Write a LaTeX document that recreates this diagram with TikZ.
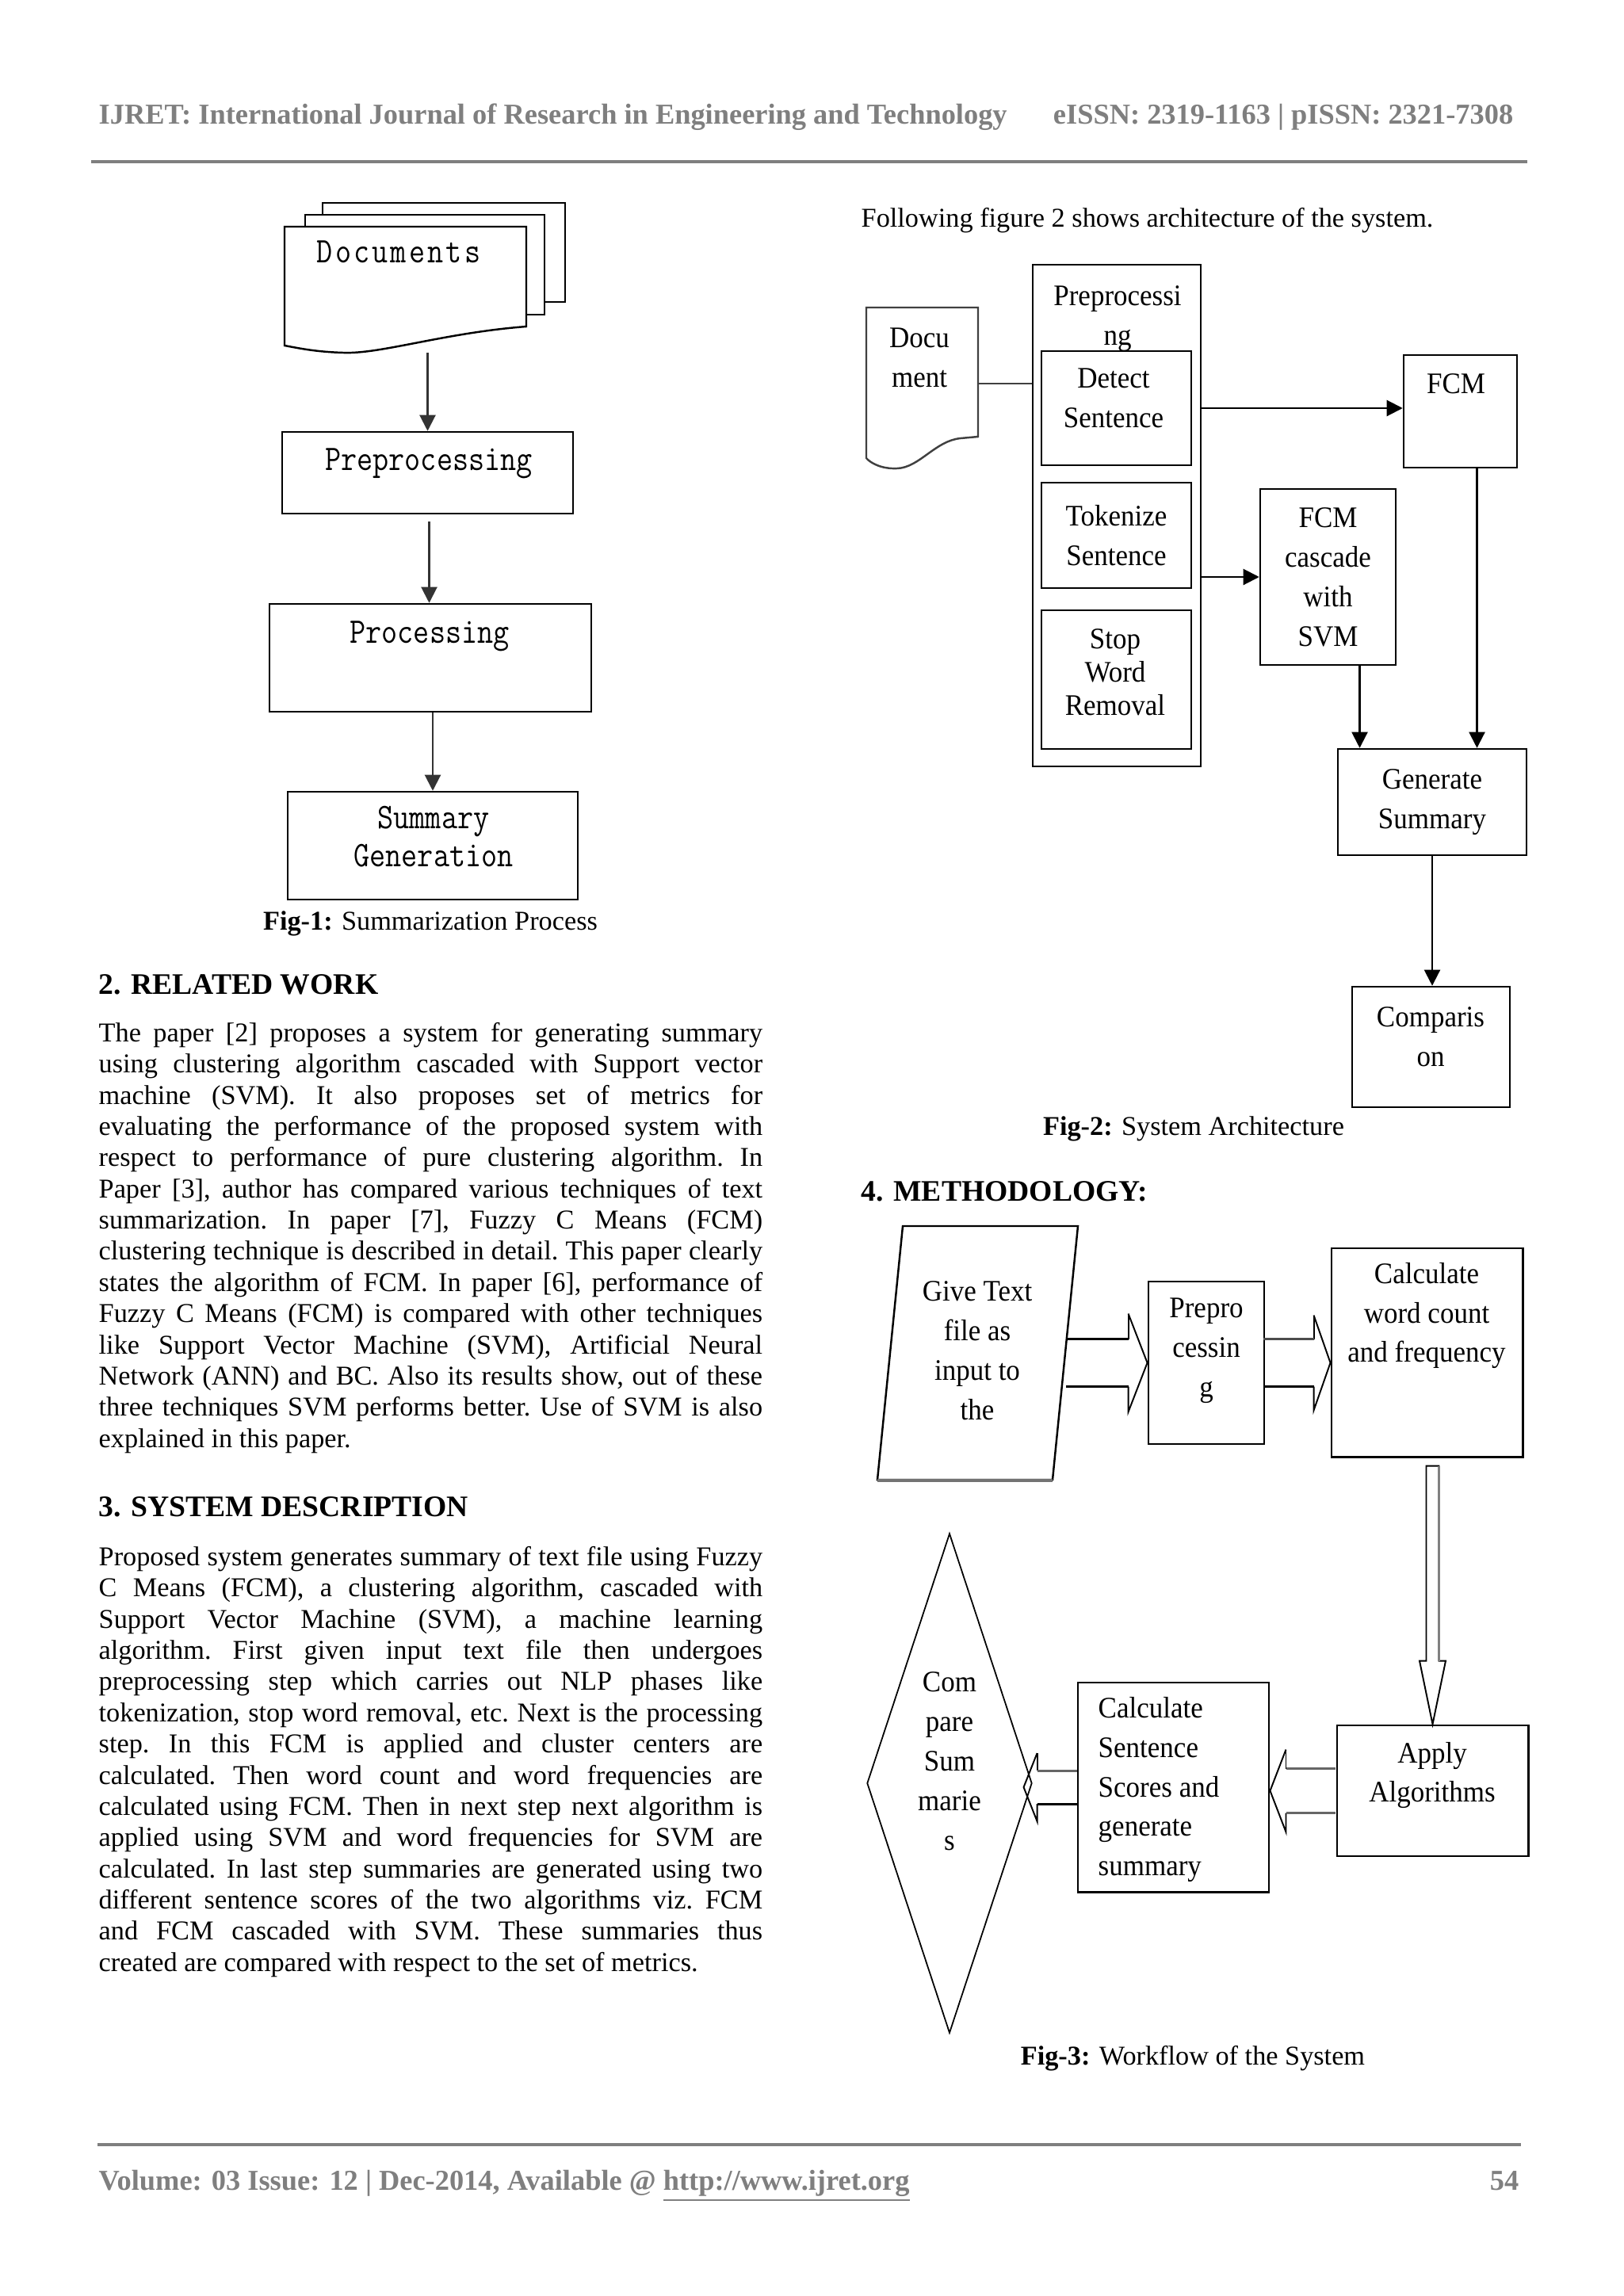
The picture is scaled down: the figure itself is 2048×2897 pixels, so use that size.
\documentclass[tikz,border=0pt]{standalone}
\usepackage{fontspec}
\setmainfont{Liberation Serif}
\newfontfamily\figmono[FakeStretch=0.86]{Latin Modern Mono}
\newfontfamily\figmonowide[FakeStretch=0.86, LetterSpace=7]{Latin Modern Mono}
\newfontfamily\figserif[FakeStretch=0.93]{Liberation Serif}
\usetikzlibrary{arrows.meta}
\usetikzlibrary{calc}
\usetikzlibrary{shapes.geometric}
\definecolor{pagegray}{HTML}{7F7F7F}

\tikzset{
  ln/.style={line width=0.7pt},
  box/.style={draw, line width=0.7pt, inner sep=0pt},
  onetxt/.style={font=\figmono\fontsize{12.9}{13.6}\selectfont, inner sep=0pt, align=center},
  twotxt/.style={font=\figserif\fontsize{10.7}{14.2}\selectfont, inner sep=0pt, align=center},
  arr/.style={-{Triangle[length=0.2cm,width=0.2cm]}, line width=0.6pt},
  blk/.style={line width=0.55pt, line join=miter},
  shaft/.style={line width=0.85pt},
  body/.style={font=\fontsize{9.75}{11.2}\selectfont\frenchspacing, inner sep=0pt, text width=8.37cm, align=justify, anchor=north west},
  sechead/.style={font=\bfseries\fontsize{10.7}{13}\selectfont, inner sep=0pt, anchor=base west},
  figcap/.style={font=\fontsize{9.75}{11}\selectfont, inner sep=0pt, anchor=base},
  pg/.style={font=\bfseries\fontsize{10.35}{12}\selectfont, text=pagegray, inner sep=0pt}
}

\begin{document}
\begin{tikzpicture}[x=0.01cm, y=-0.01cm]
\fill[white] (0,0) rectangle (2048,2897);
\useasboundingbox (0,0) rectangle (2048,2897);

% page head and foot
\node[pg, anchor=base west] (jname) at (124,157) {IJRET: International Journal of Research in Engineering and Technology};
\node[pg, anchor=base east] (issn) at (1910,157) {eISSN: 2319-1163 | pISSN: 2321-7308};
\draw[pagegray, line width=0.9pt] (115,204) -- (1927,204);
\draw[pagegray, line width=0.9pt] (123,2706) -- (1919,2706);
\node[pg, anchor=base west] (vol) at (124,2763) {Volume: 03 Issue: 12 | Dec-2014, Available @ \underline{http://www.ijret.org}};
\node[pg, anchor=base east] (pgno) at (1917,2763) {54};

% Fig-1
\draw[box, fill=white] (407,256) rectangle (713,381);
\draw[box, fill=white] (385,271) rectangle (687,397);
\draw[ln, fill=white] (359,286) -- (664,286) -- (664,412) .. controls (560,420) and (480,447) .. (433,445) .. controls (400,444) and (380,440) .. (359,436) -- cycle;
\node[minimum width=3.05cm, minimum height=1.58cm, inner sep=0pt] (docs) at (511.5,365) {};
\node[onetxt, font=\figmonowide\fontsize{12.9}{13.6}\selectfont, anchor=north] (docstxt) at (503,303) {Documents};
\node[box, minimum width=3.67cm, minimum height=1.03cm] (pre) at (539.5,596.5) {};
\node[onetxt, anchor=north] (pretxt) at (541,565) {Preprocessing};
\node[box, minimum width=4.06cm, minimum height=1.36cm] (proc) at (543,830) {};
\node[onetxt, anchor=north] (proctxt) at (542,783) {Processing};
\node[box, minimum width=3.66cm, minimum height=1.36cm] (sum) at (546,1067) {};
\node[onetxt] (sumtxt) at (547,1056) {Summary\\Generation};
\draw[arr, black!80] (pre.north |- docs.south) -- (pre.north);
\coordinate (p1) at ($(pre.south)+(2,9)$);
\draw[arr, black!80] (p1) -- (p1 |- proc.north);
\draw[arr, black!80] (sum.north |- proc.south) -- (sum.north);
\node[figcap] (cap1) at (543,1173) {\textbf{Fig-1:} Summarization Process};

% section text, left column
\node[sechead] (rwhead) at (124,1254) {2. RELATED WORK};
\node[body] (rw) at (124,1286) {\strut The paper [2] proposes a system for generating summary\linebreak
using clustering algorithm cascaded with Support vector\linebreak
machine (SVM). It also proposes set of metrics for\linebreak
evaluating the performance of the proposed system with\linebreak
respect to performance of pure clustering algorithm. In\linebreak
Paper [3], author has compared various techniques of text\linebreak
summarization. In paper [7], Fuzzy C Means (FCM)\linebreak
clustering technique is described in detail. This paper clearly\linebreak
states the algorithm of FCM. In paper [6], performance of\linebreak
Fuzzy C Means (FCM) is compared with other techniques\linebreak
like Support Vector Machine (SVM), Artificial Neural\linebreak
Network (ANN) and BC. Also its results show, out of these\linebreak
three techniques SVM performs better. Use of SVM is also\linebreak
explained in this paper.};
\node[sechead] (sdhead) at (124,1913) {3. SYSTEM DESCRIPTION};
\node[body] (sd) at (124,1947) {\strut Proposed system generates summary of text file using Fuzzy\linebreak
C Means (FCM), a clustering algorithm, cascaded with\linebreak
Support Vector Machine (SVM), a machine learning\linebreak
algorithm. First given input text file then undergoes\linebreak
preprocessing step which carries out NLP phases like\linebreak
tokenization, stop word removal, etc. Next is the processing\linebreak
step. In this FCM is applied and cluster centers are\linebreak
calculated. Then word count and word frequencies are\linebreak
calculated using FCM. Then in next step next algorithm is\linebreak
applied using SVM and word frequencies for SVM are\linebreak
calculated. In last step summaries are generated using two\linebreak
different sentence scores of the two algorithms viz. FCM\linebreak
and FCM cascaded with SVM. These summaries thus\linebreak
created are compared with respect to the set of metrics.};

% Fig-2
\node[figcap, anchor=base west] (follow) at (1086,286) {Following figure 2 shows architecture of the system.};
\draw[ln, black!75] (1093,388) -- (1234,388) -- (1234,551) -- (1212,553) .. controls (1180,556) and (1160,590) .. (1132,591) .. controls (1112,592) and (1098,584) .. (1093,578) -- cycle;
\node[minimum width=1.41cm, minimum height=1.92cm, inner sep=0pt] (doc) at (1163.5,484) {};
\node[twotxt] (doctxt) at (1160,451) {Docu\\ment};
\node[box, minimum width=2.12cm, minimum height=6.33cm] (prep) at (1409,650.5) {};
\node[twotxt, anchor=north] (preptxt) at (1410,360) {Preprocessi\\ng};
\node[box, minimum width=1.89cm, minimum height=1.44cm] (detect) at (1408.5,515) {};
\node[twotxt] (detecttxt) at (1405,502) {Detect\\Sentence};
\node[box, twotxt, minimum width=1.89cm, minimum height=1.33cm] (token) at (1408.5,675.5) {Tokenize\\Sentence};
\node[box, minimum width=1.89cm, minimum height=1.75cm] (stop) at (1408.5,857.5) {};
\node[twotxt, font=\figserif\fontsize{10.7}{11.9}\selectfont] (stoptxt) at (1407,848) {Stop\\Word\\Removal};
\node[box, minimum width=1.43cm, minimum height=1.42cm] (fcm) at (1842.5,519) {};
\node[twotxt] (fcmtxt) at (1837,484) {FCM};
\node[box, twotxt, minimum width=1.71cm, minimum height=2.22cm] (cascade) at (1675.5,728) {FCM\\cascade\\with\\SVM};
\node[box, twotxt, minimum width=2.38cm, minimum height=1.34cm] (gen) at (1807,1012) {Generate\\Summary};
\node[box, minimum width=1.99cm, minimum height=1.52cm] (comp) at (1805.5,1321) {};
\node[twotxt] (comptxt) at (1805,1308) {Comparis\\on};
\draw[ln, black!75] (doc.east) -- (doc.east -| prep.west);
\draw[arr] (prep.east |- detect) -- (fcm.west |- detect);
\draw[arr] (prep.east |- cascade) -- (cascade.west);
\coordinate (f1) at ($(fcm.south)+(21,0)$);
\draw[arr] (f1) -- (f1 |- gen.north);
\coordinate (c1) at ($(cascade.south)+(40,0)$);
\draw[arr] (c1) -- (c1 |- gen.north);
\draw[arr] (gen.south) -- (gen.south |- comp.north);
\node[figcap] (cap2) at (1506,1432) {\textbf{Fig-2:} System Architecture};

% Fig-3
\node[sechead] (meth) at (1086,1515) {4. METHODOLOGY:};
\draw[ln] (1139,1547) -- (1360,1547) -- (1328,1867) -- (1107,1867) -- cycle;
\draw[black!55, line width=1.1pt] (1107,1868) -- (1328,1868);
\node[twotxt] (give) at (1233,1704) {Give Text\\file as\\input to\\the};
\node[box, line width=0.8pt, minimum width=1.46cm, minimum height=2.05cm] (prepro) at (1522,1719.5) {};
\node[twotxt] (preprotxt) at (1522,1704) {Prepro\\cessin\\g};
\node[box, line width=0.8pt, minimum width=2.41cm, minimum height=2.63cm] (calcw) at (1800.5,1706.5) {};
\node[twotxt] (calcwtxt) at (1800,1660) {Calculate\\word count\\and frequency};
\node[box, line width=0.8pt, minimum width=2.41cm, minimum height=1.65cm] (apply) at (1807.5,2259.5) {};
\node[twotxt] (applytxt) at (1807,2240) {Apply\\Algorithms};
\node[box, line width=0.8pt, minimum width=2.41cm, minimum height=2.64cm] (calcs) at (1480.5,2255) {};
\node[twotxt, align=left, anchor=west] (calcstxt) at (1385,2258) {Calculate\\Sentence\\Scores and\\generate\\summary};
\node[draw, diamond, line width=0.5pt, inner sep=0pt, minimum width=2.08cm, minimum height=6.3cm] (cmp) at (1198,2250) {};
\node[twotxt] (cmptxt) at (1198,2222) {Com\\pare\\Sum\\marie\\s};
% hollow arrows, heads thin and shafts thick
\draw[blk] (prepro.west) ++(-24,-62) -- (prepro.west) -- ++(-24,62) -- ++(0,-32);
\draw[blk] (prepro.west) ++(-24,-62) -- ++(0,32);
\draw[shaft] (prepro.west) ++(-24,-30) -- ++(-79,0);
\draw[shaft] (prepro.west) ++(-24,30) -- ++(-79,0);
\draw[blk] (calcw.west |- prepro) ++(-21,-60) -- (calcw.west |- prepro) -- ++(-21,60) -- ++(0,-30);
\draw[blk] (calcw.west |- prepro) ++(-21,-60) -- ++(0,30);
\draw[shaft, black!70] (calcw.west |- prepro) ++(-21,-30) -- ++(-64,0);
\draw[shaft] (calcw.west |- prepro) ++(-21,30) -- ++(-64,0);
\draw[blk] (apply.north) -- ++(-16.5,-80) -- ++(8.5,0) -- ++(0,-246) -- ++(16,0) -- ++(0,246) -- ++(8.5,0) -- cycle;
\draw[black!50, line width=1pt] (apply.north) ++(8,-80) -- ++(0,-246);
\draw[blk] (calcs.east |- apply) ++(20,-52) -- (calcs.east |- apply) -- ++(20,52) -- ++(0,-24);
\draw[blk] (calcs.east |- apply) ++(20,-52) -- ++(0,24);
\draw[shaft, black!60] (calcs.east |- apply) ++(20,-28) -- ++(62,0);
\draw[shaft, black!60] (calcs.east |- apply) ++(20,28) -- ++(62,0);
\draw[blk] (calcs.west) ++(-50,-43) -- ++(-17,43) -- ++(17,43) -- ++(0,-22);
\draw[blk] (calcs.west) ++(-50,-43) -- ++(0,22);
\draw[shaft, black!60] (calcs.west) ++(0,-21) -- ++(-50,0);
\draw[shaft] (calcs.west) ++(0,21) -- ++(-50,0);
\node[figcap] (cap3) at (1505,2605) {\textbf{Fig-3:} Workflow of the System};
\end{tikzpicture}
\end{document}
